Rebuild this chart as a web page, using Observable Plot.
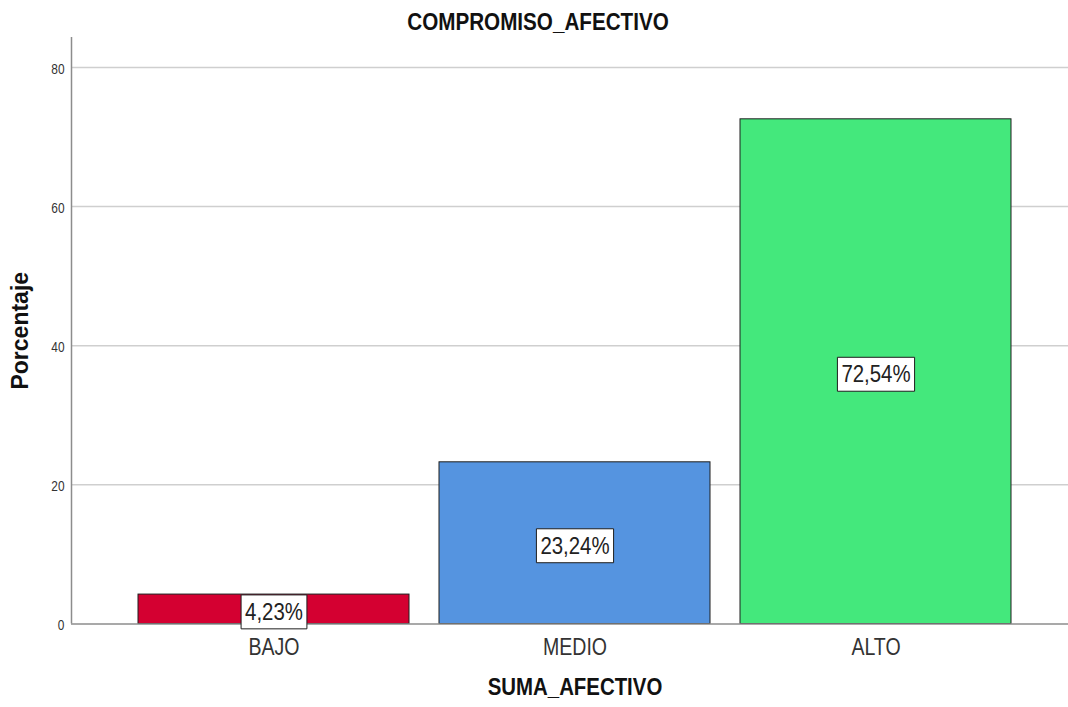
<!DOCTYPE html>
<html>
<head>
<meta charset="utf-8">
<script src="https://cdn.jsdelivr.net/npm/d3@7"></script>
<script src="https://cdn.jsdelivr.net/npm/@observablehq/plot@0.6"></script>
<style>
  html, body { margin: 0; padding: 0; background: #fff; }
  #title {
    height: 37px; box-sizing: border-box; padding-top: 10px; padding-left: 8px;
    text-align: center; font: bold 24px "Liberation Sans", Arial, sans-serif;
    line-height: 24px; color: #111; white-space: nowrap;
  }
  #title span { display: inline-block; transform: scaleX(0.86); transform-origin: 50% 50%; }
  svg { display: block; }
</style>
</head>
<body>
<div id="title"><span>COMPROMISO_AFECTIVO</span></div>
<div id="chart"></div>
<script>
// Distribution of SUMA_AFECTIVO levels (percent of respondents)
const categories = ["BAJO", "MEDIO", "ALTO"];
const percentages = [4.23, 23.24, 72.54];
const barColors = ["#d40031", "#5594e0", "#44e87c"];
const yTicks = [0, 20, 40, 60, 80];

const sans = `"Liberation Sans", Arial, sans-serif`;
const squeeze = 0.85; // condensed lettering for horizontal text
const rows = categories.map((c, i) => ({category: c, value: percentages[i]}));
const fmt = v => v.toFixed(2).replace(".", ",") + "%";

// vertical axis line along the left edge of the frame
const leftAxisLine = (index, scales, values, dims) => {
  const line = document.createElementNS("http://www.w3.org/2000/svg", "line");
  line.setAttribute("x1", dims.marginLeft + 0.5);
  line.setAttribute("x2", dims.marginLeft + 0.5);
  line.setAttribute("y1", dims.marginTop);
  line.setAttribute("y2", dims.height - dims.marginBottom);
  line.setAttribute("stroke", "#8c8c8c");
  line.setAttribute("stroke-width", 1.5);
  return line;
};

const chart = Plot.plot({
  width: 1068,
  height: 670,
  marginTop: 0,
  marginBottom: 83.5,
  marginLeft: 71,
  marginRight: 0,
  style: {fontFamily: sans, background: "#fff"},
  x: {domain: categories, paddingInner: 0.101, paddingOuter: 0.204, align: 0.535, label: null},
  y: {domain: [0, 84.3], label: null},
  marks: [
    Plot.gridY(yTicks.filter(d => d > 0), {stroke: "#cfcfcf", strokeOpacity: 1, strokeWidth: 1.5}),
    Plot.barY(rows, {x: "category", y: "value", fill: (d, i) => barColors[i], stroke: "#1e1e1e", strokeWidth: 1}),
    Plot.ruleY([0], {stroke: "#8c8c8c", strokeWidth: 1.5}),
    leftAxisLine,
    Plot.axisY({ticks: yTicks, tickSize: 0, tickPadding: 7, fontSize: 14, fill: "#333", dy: 2, ariaDescription: "squeeze"}),
    Plot.axisX({tickSize: 0, tickPadding: 15, fontSize: 23, fill: "#333", ariaDescription: "squeeze"}),
    Plot.text(rows, {x: "category", y: d => d.value / 2, text: d => fmt(d.value), fontSize: 24, fill: "#222", dy: 3, ariaDescription: "value labels"}),
    Plot.text(["Porcentaje"], {frameAnchor: "left", textAnchor: "middle", rotate: -90, dx: -51, fontSize: 23, fontWeight: "bold", fill: "#111"}),
    Plot.text(["SUMA_AFECTIVO"], {frameAnchor: "bottom", dy: 71, dx: 5, fontSize: 24, fontWeight: "bold", fill: "#111", ariaDescription: "squeeze"})
  ]
});

document.getElementById("chart").appendChild(chart);

// narrow the horizontal lettering around each label's anchor point
const squeezeText = t => {
  const tr = t.getAttribute("transform") || "";
  t.setAttribute("transform", `${tr} scale(${squeeze},1)`);
};
chart.querySelectorAll('g[aria-description="squeeze"] text').forEach(squeezeText);

// white boxes with a dark outline behind the value labels
chart.querySelectorAll('g[aria-description="value labels"] text').forEach(t => {
  squeezeText(t);
  const b = t.getBBox();
  const padX = 4 / squeeze, padY = 3.5;
  const r = document.createElementNS("http://www.w3.org/2000/svg", "rect");
  r.setAttribute("x", b.x - padX);
  r.setAttribute("y", b.y - padY);
  r.setAttribute("width", b.width + 2 * padX);
  r.setAttribute("height", b.height + 2 * padY);
  r.setAttribute("fill", "#fff");
  r.setAttribute("stroke", "#1e1e1e");
  r.setAttribute("stroke-width", 1);
  r.setAttribute("vector-effect", "non-scaling-stroke");
  r.setAttribute("transform", t.getAttribute("transform"));
  t.parentNode.insertBefore(r, t);
});
</script>
</body>
</html>
